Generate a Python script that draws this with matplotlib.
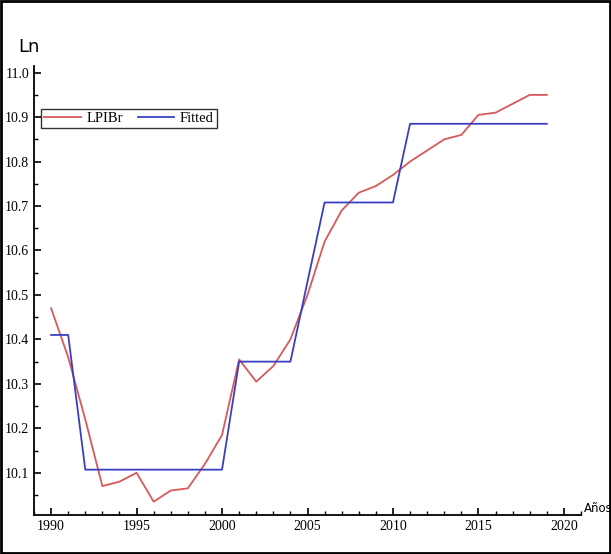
import matplotlib.pyplot as plt
import numpy as np
from matplotlib.ticker import MultipleLocator

years = list(range(1990, 2020))
lpibr = [10.47, 10.36, 10.22, 10.07, 10.08, 10.10, 10.035, 10.06, 10.065, 10.12,
         10.185, 10.355, 10.305, 10.34, 10.40, 10.50, 10.62, 10.69, 10.73, 10.745,
         10.77, 10.80, 10.825, 10.85, 10.86, 10.905, 10.91, 10.93, 10.95, 10.95]
fitted = [10.41, 10.41, 10.107, 10.107, 10.107, 10.107, 10.107, 10.107, 10.107, 10.107,
          10.107, 10.35, 10.35, 10.35, 10.35, 10.53, 10.708, 10.708, 10.708, 10.708,
          10.708, 10.885, 10.885, 10.885, 10.885, 10.885, 10.885, 10.885, 10.885, 10.885]

plt.rcParams['font.family'] = 'Liberation Serif'
fig = plt.figure(figsize=(6.11, 5.54), dpi=100)
ax = fig.add_axes([34/611, 1-515/554, (581-34)/611, (515-66)/554])

ax.plot(years, lpibr, color='#d9585a', lw=1.3, label='LPIBr')
ax.plot(years, fitted, color='#3a3fc0', lw=1.3, label='Fitted')

ax.set_xlim(1989.0, 2021.0)
ax.set_ylim(10.005, 11.015)
ax.xaxis.set_major_locator(MultipleLocator(5))
ax.xaxis.set_minor_locator(MultipleLocator(1))
ax.yaxis.set_major_locator(MultipleLocator(0.1))
ax.yaxis.set_minor_locator(MultipleLocator(0.05))
ax.yaxis.set_major_formatter(plt.FuncFormatter(lambda v, p: f'{v:.1f}'))
ax.tick_params(direction='in', which='major', length=5, width=1.2, labelsize=10)
ax.tick_params(direction='in', which='minor', length=3, width=1)
for s in ['top', 'right']:
    ax.spines[s].set_visible(False)
for s in ['left', 'bottom']:
    ax.spines[s].set_linewidth(1.3)
ax.xaxis.set_ticks([t for t in ax.get_xticks() if 1990 <= t <= 2020])

ax.legend(loc='upper left', bbox_to_anchor=(0.0, 0.92), ncol=2, frameon=True,
          fancybox=False, edgecolor='black', fontsize=10.5, handlelength=2.5,
          columnspacing=1.0, borderpad=0.2, handletextpad=0.4)

fig.text(584/611, 1-508/554, 'Años', fontsize=8.5, family='DejaVu Sans', va='center')
fig.text(18/611, 1-47/554, 'Ln', fontsize=13, family='DejaVu Sans', va='center')

fig.patches.append(plt.Rectangle((0.002, 0.002), 0.996, 0.996, transform=fig.transFigure,
                                 fill=False, edgecolor='black', lw=2))
fig.savefig('out.png', dpi=100)
